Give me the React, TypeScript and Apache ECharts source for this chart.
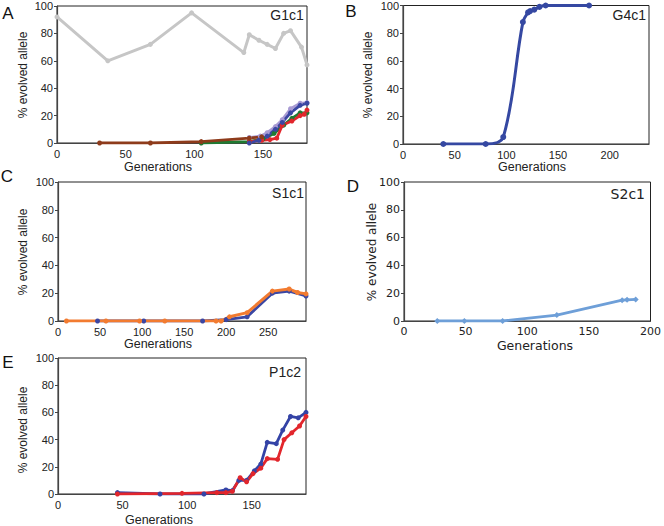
import React, { useEffect, useRef } from 'react';
import * as echarts from 'echarts';

// Panel A — G1c1
const aGray = [[0, 92], [37, 60], [68, 72], [98, 95], [136, 66], [140, 79], [147, 75], [153, 72], [159, 69], [165, 80], [170, 82], [178, 70], [182, 57]];
const aPurple = [[140, 4], [148, 5], [153, 7.5], [159, 12], [164, 17], [170, 25], [177, 29], [182, 29.5]];
const aGreen = [[105, 0], [140, 1], [150, 3], [158, 7], [165, 13], [171, 18], [177, 22], [182, 22]];
const aRed = [[140, 1], [149, 2], [155, 2.5], [160, 3.5], [164, 13], [171, 16], [177, 20], [180, 21], [182, 24]];
const aBlue = [[140, 0], [147, 2], [153, 5], [159, 10], [164, 15], [170, 22], [177, 27.5], [182, 29]];
const aBrown = [[31, 0], [68, 0], [105, 1], [140, 3.5], [149, 4.5]];

// Panel B — G4c1
const bBlue = [[39, 0], [80, 0], [97, 5], [116, 88], [121, 95], [123, 96], [127, 97], [132, 99], [138, 100], [180, 100]];

// Panel C — S1c1
const cBlue = [[47, 0], [102, 0], [172, 0], [200, 1], [225, 3], [255, 20], [275, 21.5], [295, 18]];
const cOrange = [[10, 0], [57, 0], [97, 0], [127, 0], [188, 0], [194, 0], [204, 3], [225, 6], [255, 21.5], [275, 23], [285, 20.5], [295, 19.5]];

// Panel D — S2c1
const dBlue = [[27, 0], [49, 0], [80, 0], [124, 4.3], [177, 15], [181, 15.2], [188, 15.5]];

// Panel E — P1c2
const eBlue = [[46, 1], [79, 0], [113, 0], [130, 3], [135, 2.5], [140, 10], [146, 10], [152, 17], [157, 22], [162, 38], [169, 37], [174, 47], [180, 57], [186, 56], [192, 60]];
const eRed = [[46, 0], [96, 0.5], [123, 1], [130, 1], [135, 2], [141, 12], [146, 9], [151, 15], [157, 19], [162, 26], [170, 25.5], [175, 40], [181, 45], [187, 50], [192, 57]];

const xMaxes = [182, 238, 295, 200, 192];
const panelLetters = ['A', 'B', 'C', 'D', 'E'];
const panelNames = ['G1c1', 'G4c1', 'S1c1', 'S2c1', 'P1c2'];
const xTitle = 'Generations';
const yTitle = '% evolved allele';

const FONT = '"Liberation Sans", Arial, sans-serif';
const FONT_D = '"DejaVu Sans", Verdana, sans-serif';

export default function App() {
  const ref = useRef<HTMLDivElement>(null);
  useEffect(() => {
    if (!ref.current) return;
    const chart = echarts.init(ref.current, undefined, { renderer: 'svg' });

    const grids = [
      { left: 57, top: 6, width: 250, height: 137 },
      { left: 403, top: 5, width: 246, height: 139 },
      { left: 58, top: 182, width: 248, height: 139 },
      { left: 404, top: 182, width: 247, height: 139 },
      { left: 58, top: 358, width: 248, height: 136 },
    ].map((g) => ({ ...g, show: true, borderColor: '#222', borderWidth: 1, backgroundColor: 'transparent', containLabel: false }));

    const xAxis = xMaxes.map((mx, i) => ({
      type: 'value',
      gridIndex: i,
      min: 0,
      max: mx,
      interval: 50,
      splitLine: { show: false },
      axisTick: { show: false },
      axisLine: { show: true, onZero: false, lineStyle: { color: '#444', width: 1.2 } },
      axisLabel: {
        color: '#222',
        fontSize: 11,
        fontFamily: i === 3 ? FONT_D : FONT,
        margin: 5,
        formatter: (v: number) => (v % 50 === 0 ? String(v) : ''),
      },
    }));

    const yAxis = xMaxes.map((_, i) => ({
      type: 'value',
      gridIndex: i,
      min: 0,
      max: 100,
      interval: 20,
      splitLine: { show: false },
      axisTick: { show: true, length: 3, lineStyle: { color: '#444' } },
      axisLine: { show: true, lineStyle: { color: '#444', width: 1.2 } },
      axisLabel: { color: '#222', fontSize: 11, fontFamily: i === 3 ? FONT_D : FONT, margin: 4 },
    }));

    const line = (data: number[][], idx: number, color: string, opts: any = {}) => ({
      type: 'line',
      xAxisIndex: idx,
      yAxisIndex: idx,
      data,
      symbol: 'circle',
      symbolSize: 5,
      showSymbol: true,
      lineStyle: { color, width: 2.8 },
      itemStyle: { color },
      ...opts,
    });

    const series = [
      line(aGray, 0, '#c6c6c6', { lineStyle: { color: '#c6c6c6', width: 3 } }),
      line(aPurple, 0, '#a99bd4'),
      line(aGreen, 0, '#1f7a32'),
      line(aRed, 0, '#e2262c'),
      line(aBlue, 0, '#3b47a3'),
      line(aBrown, 0, '#8e3b1b'),
      line(bBlue, 1, '#3548a2', { smooth: 0.35, lineStyle: { color: '#3548a2', width: 3 }, symbolSize: 6 }),
      line(cBlue, 2, '#3b47a3'),
      line(cOrange, 2, '#f27b30', { lineStyle: { color: '#f27b30', width: 3 } }),
      line(dBlue, 3, '#6e9fd8', { symbol: 'diamond', symbolSize: 6 }),
      line(eBlue, 4, '#3443a6'),
      line(eRed, 4, '#e2262c'),
    ];

    const letterPos = [[8, 13], [351, 11], [7, 176], [353, 186], [8, 362]];
    const namePos = [[287, 15, 'center'], [646, 15, 'right'], [288, 193, 'center'], [645, 194, 'right'], [285, 372, 'center']];
    const xTitlePos = [[158, 167], [532, 167], [158, 344], [535, 345], [159, 520]];
    const yTitlePos = [[23, 75], [368, 75], [23, 252], [372, 252], [23, 430]];

    const graphic: any[] = [];
    panelLetters.forEach((t, i) => {
      graphic.push({ type: 'text', x: letterPos[i][0], y: letterPos[i][1], style: { text: t, fontSize: 17, fontFamily: FONT, fill: '#111', textAlign: 'center', textVerticalAlign: 'middle' } });
      graphic.push({ type: 'text', x: namePos[i][0] as number, y: namePos[i][1] as number, style: { text: panelNames[i], fontSize: 14, fontFamily: i === 3 ? FONT_D : FONT, fill: '#222', textAlign: namePos[i][2], textVerticalAlign: 'middle' } });
      graphic.push({ type: 'text', x: xTitlePos[i][0], y: xTitlePos[i][1], style: { text: xTitle, fontSize: 12.5, fontFamily: i === 3 ? FONT_D : FONT, fill: '#222', textAlign: 'center', textVerticalAlign: 'middle' } });
      graphic.push({ type: 'text', x: yTitlePos[i][0], y: yTitlePos[i][1], rotation: Math.PI / 2, style: { text: yTitle, fontSize: 12, fontFamily: i === 3 ? FONT_D : FONT, fill: '#222', textAlign: 'center', textVerticalAlign: 'middle' } });
    });

    chart.setOption({
      animation: false,
      backgroundColor: '#fff',
      grid: grids,
      xAxis,
      yAxis,
      series,
      graphic,
    });
    return () => chart.dispose();
  }, []);
  return <div ref={ref} style={{ position: 'fixed', left: 0, top: 0, width: 664, height: 526, background: '#fff' }} />;
}
